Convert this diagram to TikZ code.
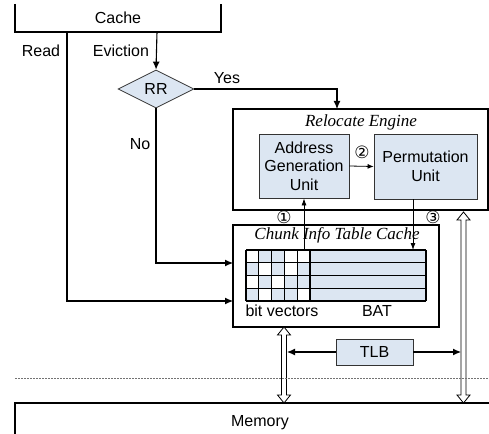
\documentclass[tikz,border=0pt]{standalone}
\usepackage{fontspec}
\setmainfont{Liberation Sans}
\newfontfamily\titleserif{Liberation Serif}
\newfontfamily\circfont{DejaVu Sans}
\usetikzlibrary{arrows.meta,shapes.geometric,calc}
\definecolor{paleblue}{HTML}{DCE6F2}

% hollow two-headed bus arrow between a top and a bottom point
\newcommand\busarrow[2]{%
  \draw[bus] let \p1=(#1), \p2=(#2) in
    (\x1,\y1) -- ++(6.5pt,-8pt) -- ++(-4pt,0pt) -- (\x1+2.5pt,\y2+8pt)
    -- ++(4pt,0pt) -- (\x2,\y2) -- ++(-6.5pt,8pt) -- ++(4pt,0pt)
    -- (\x1-2.5pt,\y1-8pt) -- ++(-4pt,0pt) -- cycle;}

\begin{document}
\begin{tikzpicture}[x=1pt,y=-1pt,
  txt/.style={font=\fontsize{16}{18.5}\selectfont, inner sep=0pt},
  ital/.style={font=\titleserif\itshape\fontsize{17}{20}\selectfont, inner sep=0pt},
  circ/.style={font=\circfont\fontsize{17}{17}\selectfont, inner sep=0pt},
  wire/.style={line width=1.1pt},
  arr/.style={wire, -{Latex[length=8pt,width=7pt]}},
  smallarr/.style={line width=0.8pt, -{Latex[length=6pt,width=5pt]}},
  frame/.style={draw, line width=1.2pt, inner sep=0pt},
  unit/.style={draw=black!80, line width=0.8pt, fill=paleblue, inner sep=0pt,
    align=center, font=\fontsize{16}{18.5}\selectfont},
  decision/.style={diamond, aspect=2, draw=black!80, line width=0.8pt, fill=paleblue,
    inner sep=0pt, minimum width=76pt, minimum height=38pt,
    font=\fontsize{16}{18.5}\selectfont},
  bus/.style={draw, line width=0.8pt, fill=white, line join=miter},
  grid/.style={line width=1.1pt},
]
\useasboundingbox (0,0) rectangle (489,433);

% ---- cache and its outputs
\coordinate (cacheTL) at (15,4);
\coordinate (cacheBL) at (15,32);
\coordinate (cacheBR) at (221,32);
\coordinate (cacheTR) at (221,4);
\draw[wire] (cacheTL) -- (cacheBL) -- (cacheBR) -- (cacheTR);
\node[txt] (cache) at (118,18) {Cache};
\coordinate (readTop) at (67,32);
\coordinate (evTop) at (157,32);
\node[txt] (readlbl) at (41,51) {Read};
\node[txt] (evlbl) at (121,51) {Eviction};

% ---- decision
\node[decision] (rr) at (156,89) {RR};
\draw[arr] (evTop) -- (rr.north);
\node[txt] (yeslbl) at (227,78) {Yes};
\node[txt] (nolbl) at (140,144) {No};

% ---- relocate engine
\node[frame, minimum width=255pt, minimum height=101pt] (re) at (360.5,159.5) {};
\node[ital] (retitle) at (361,122) {Relocate Engine};
\node[unit, minimum width=90pt, minimum height=64pt] (agu) at (304,166)
  {Address\\Generation\\Unit};
\node[unit, minimum width=103pt, minimum height=65pt] (pu) at (425.5,166.5)
  {Permutation\\Unit};
\draw[smallarr] (agu.east) -- (pu.west);
\node[circ] (c2) at (362,152) {②};
\coordinate (reIn) at (337,109);
\draw[arr] (rr.east) -| (reIn);

% ---- chunk info table cache
\node[frame, minimum width=206pt, minimum height=102pt] (cit) at (336,276) {};
\node[ital] (cittitle) at (337,235) {Chunk Info Table Cache};

% table cells
\fill[paleblue] (310,250) rectangle (426,301);
\foreach \c/\r in {1/0,2/0, 0/1,2/1,4/1, 1/2,3/2,4/2, 0/3,2/3,3/3}
  \fill[paleblue] (246+\c*12.8,250+\r*12.75) rectangle ++(12.8,12.75);
\foreach \r in {0,...,4}
  \draw[grid] (246,250+\r*12.75) -- (426,250+\r*12.75);
\foreach \c in {0,...,4}
  \draw[grid] (246+\c*12.8,250) -- (246+\c*12.8,301);
\draw[line width=1.6pt] (310,250) -- (310,301);
\draw[grid] (426,250) -- (426,301);
\node[txt] (bvlbl) at (282,311) {bit vectors};
\node[txt] (batlbl) at (377,311) {BAT};

\coordinate (citNo) at (233,263);
\coordinate (citRead) at (233,301);
\draw[arr] (rr.south) |- (citNo);
\draw[arr] (readTop) |- (citRead);

% table <-> engine
\coordinate (aguFeed) at (304,250);
\draw[line width=0.8pt, -{Latex[length=7pt,width=5pt]}] (aguFeed) -- (agu.south);
\node[circ] (c1) at (284,217) {①};
\coordinate (batIn) at (413,250);
\draw[line width=0.8pt, -{Latex[length=7pt,width=5pt]}] (pu.south -| batIn) -- (batIn);
\node[circ] (c3) at (433,217) {③};

% ---- memory side
\coordinate (busLtop) at (284,327);
\coordinate (busLbot) at (284,403);
\coordinate (busRtop) at (463.5,212);
\coordinate (busRbot) at (463.5,403);
\busarrow{busLtop}{busLbot}
\busarrow{busRtop}{busRbot}

\node[unit, minimum width=77pt, minimum height=26pt] (tlb) at (374.5,352) {TLB};
\coordinate (tlbL) at (287,352);
\coordinate (tlbR) at (461,352);
\draw[arr] (tlb.west) -- (tlbL);
\draw[arr] (tlb.east) -- (tlbR);

\coordinate (dashL) at (15,378);
\coordinate (dashR) at (489,378);
\draw[black!55, line width=0.6pt, dash pattern=on 2pt off 1pt] (dashL) -- (dashR);

\coordinate (memBL) at (15,440);
\coordinate (memTL) at (15,403);
\coordinate (memTR) at (500,403);
\draw[wire] (memBL) -- (memTL) -- (memTR);
\node[txt] (memlbl) at (260,423) {Memory};
\end{tikzpicture}
\end{document}
